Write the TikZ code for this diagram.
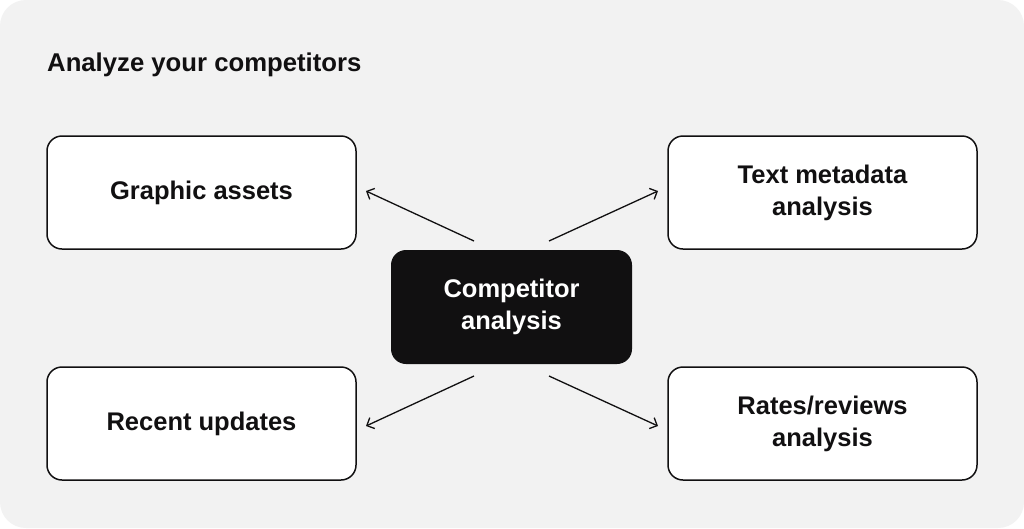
\documentclass[tikz,border=0pt]{standalone}
\usepackage{fontspec}
\setmainfont{Liberation Sans}
\usetikzlibrary{arrows.meta}
\definecolor{bgc}{HTML}{F2F2F2}
\definecolor{ink}{HTML}{111011}
\begin{document}
\begin{tikzpicture}[x=1pt,y=-1pt,
  box/.style={draw=ink,line width=1.5pt,fill=white,rounded corners=15pt,minimum width=309pt,minimum height=113pt,align=center,inner sep=0pt,
    font=\fontsize{25.5}{32}\selectfont\bfseries,text=ink},
  hub/.style={fill=ink,rounded corners=15pt,minimum width=241pt,minimum height=114pt,align=center,inner sep=0pt,
    font=\fontsize{25.5}{32}\selectfont\bfseries,text=white},
  link/.style={draw=ink,line width=1.3pt,-{Straight Barb[length=6pt,width=12pt,line width=1.3pt]}}]
\useasboundingbox (0,0) rectangle (1024,528);
\fill[white] (0,0) rectangle (1024,528);
\fill[bgc,rounded corners=26pt] (0,0) rectangle (1024,528);
\node[anchor=base west,font=\fontsize{25.7}{30}\selectfont\bfseries,text=ink,inner sep=0pt] (title) at (47,71) {Analyze your competitors};
\node[box] (ga) at (201.5,192.5) {Graphic assets};
\node[box] (tm) at (822.5,192.5) {Text metadata\\analysis};
\node[box] (ru) at (201.5,423.5) {Recent updates};
\node[box] (rr) at (822.5,423.5) {Rates/reviews\\analysis};
\node[hub] (ca) at (511.5,307) {Competitor\\analysis};
\coordinate (s1) at (474,241);
\coordinate (s2) at (549,241);
\coordinate (s3) at (474,376);
\coordinate (s4) at (549,376);
\coordinate (e1) at (366,191);
\coordinate (e2) at (658,191);
\coordinate (e3) at (366,426);
\coordinate (e4) at (658,426);
\draw[link] (s1) -- (e1);
\draw[link] (s2) -- (e2);
\draw[link] (s3) -- (e3);
\draw[link] (s4) -- (e4);
\end{tikzpicture}
\end{document}
